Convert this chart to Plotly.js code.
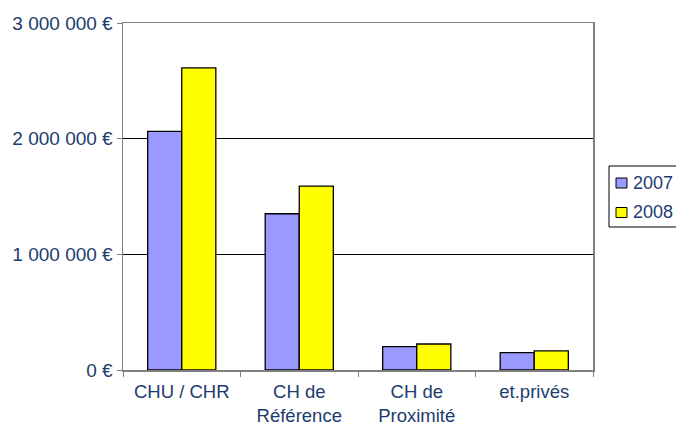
<!DOCTYPE html>
<html>
<head>
<meta charset="utf-8">
<script src="https://cdn.plot.ly/plotly-3.0.1.min.js"></script>
<style>html,body{margin:0;padding:0;background:#fff;}#chart{width:676px;height:428px;}</style>
</head>
<body>
<div id="chart"></div>
<script>
const categories = ["CHU / CHR", "CH de<br>Référence", "CH de<br>Proximité", "et.privés"];
const values2007 = [2063000, 1351000, 202000, 150000];
const values2008 = [2612000, 1590000, 225000, 165000];
const seriesNames = ["2007", "2008"];
const seriesColors = ["#9999FF", "#FFFF00"];
const yTickVals = [0, 1000000, 2000000, 3000000];
const yTickText = ["0 €", "1 000 000 €", "2 000 000 €", "3 000 000 €"];

const textColor = "#1C3C6E";
const data = [
  {type: "bar", name: seriesNames[0], x: categories, y: values2007,
   marker: {color: seriesColors[0], line: {color: "#000", width: 1.3}}},
  {type: "bar", name: seriesNames[1], x: categories, y: values2008,
   marker: {color: seriesColors[1], line: {color: "#000", width: 1.3}}}
];

// Custom legend (paper coords) to match the reference's compact box
const W = 470, H = 347;
const px = v => (v - 123) / W;
const py = v => (370 - v) / H;
const shapes = [
  {type: "rect", xref: "paper", yref: "paper", x0: px(609), x1: px(690), y0: py(227), y1: py(166),
   line: {color: "#000", width: 1}, fillcolor: "#fff"}
];
const annotations = [];
seriesNames.forEach((n, i) => {
  const cy = 183 + i * 29.5;
  shapes.push({type: "rect", xref: "paper", yref: "paper", x0: px(616), x1: px(627),
               y0: py(cy + 5), y1: py(cy - 5), line: {color: "#000", width: 1}, fillcolor: seriesColors[i]});
  annotations.push({xref: "paper", yref: "paper", x: px(631), y: py(cy), xanchor: "left", yanchor: "middle",
                    text: n, showarrow: false, font: {size: 18, color: textColor}});
});

const layout = {
  width: 676, height: 428,
  margin: {l: 123, r: 83, t: 23, b: 58, autoexpand: false},
  paper_bgcolor: "#fff", plot_bgcolor: "#fff",
  font: {family: "Liberation Sans, Arial, sans-serif", size: 18, color: textColor},
  barmode: "group", bargap: 0.42, bargroupgap: 0,
  showlegend: false,
  shapes: shapes, annotations: annotations,
  xaxis: {showline: true, linecolor: "#808080", linewidth: 1.5, mirror: true,
          ticks: "outside", tickson: "boundaries", ticklen: 5, tickcolor: "#808080",
          ticklabelstandoff: 4,
          showgrid: false, tickfont: {size: 18.5, color: textColor}, fixedrange: true},
  yaxis: {range: [0, 3000000], tickvals: yTickVals, ticktext: yTickText,
          showline: true, linecolor: "#808080", linewidth: 1.5, mirror: true,
          ticks: "outside", ticklen: 5, tickcolor: "#808080",
          showgrid: true, gridcolor: "#000", gridwidth: 1, zeroline: false,
          tickfont: {size: 19, color: textColor}, fixedrange: true}
};
Plotly.newPlot("chart", data, layout, {displayModeBar: false, staticPlot: true});
</script>
</body>
</html>
